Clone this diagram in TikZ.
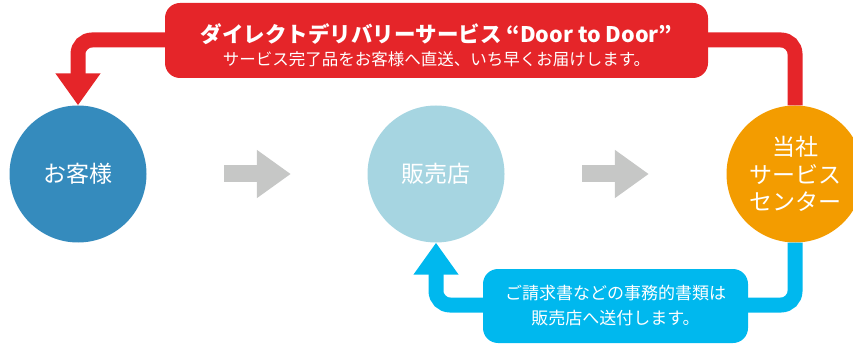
\documentclass[tikz,border=0pt]{standalone}
\usepackage{fontspec}
\setmainfont{Noto Sans CJK JP}
\usepackage{tikz}
\usetikzlibrary{arrows.meta}

\definecolor{ddred}{HTML}{E52529}
\definecolor{ddblue}{HTML}{358BBD}
\definecolor{ddlight}{HTML}{A6D5E1}
\definecolor{ddorange}{HTML}{F39C00}
\definecolor{ddcyan}{HTML}{00B8EE}
\definecolor{ddgray}{HTML}{C6C7C6}

\begin{document}
\begin{tikzpicture}[
		x = 1pt, y = -1pt,
		every node/.style = {text = white, inner sep = 0pt},
		station/.style = {circle, minimum size = 137pt, align = center,
			font = \fontsize{23}{27.5}\selectfont},
		infobox/.style = {rectangle, rounded corners = 15pt, align = center},
		flowline/.style = {line width = 15pt, rounded corners = 14pt,
			-{Triangle[width = 43pt, length = 32pt]}},
		stepline/.style = {draw = ddgray, line width = 17pt,
			-{Triangle[width = 46pt, length = 34pt]}}
		]
		\useasboundingbox (0,0) rectangle (853,347);
		\clip (0,0) rectangle (853,347);
		% Stations
		\node[station, fill = ddblue]   (customer) at (78,174)  {お客様};
		\node[station, fill = ddlight]  (shop)     at (436,174) {販売店};
		\node[station, fill = ddorange] (center)   at (795,174) {当社\\サービス\\センター};
		
		% Flow
		\draw[stepline, shorten < = 77.5pt, shorten > = 76.5pt] (customer) -- (shop);
		\draw[stepline, shorten < = 77.5pt, shorten > = 77.5pt] (shop) -- (center);
		
		% Return paths
		\coordinate (redturn)  at (customer.north |- 0,40);
		\coordinate (blueturn) at (shop.south |- 0,305);
		\draw[flowline, draw = ddred]  (center.north) |- (redturn) -- (customer.north);
		\draw[flowline, draw = ddcyan] (center.south) |- (blueturn) -- (shop.south);
		
		% Labels
		\node[infobox, fill = ddred, minimum width = 543pt, minimum height = 75pt]
			(service) at (436.5,40.5)
			{{\fontsize{21.5}{24}\selectfont\bfseries\rule{0pt}{29pt}ダイレクトデリバリーサービス “Door to Door”}\\[6pt]
			 {\fontsize{16.5}{19}\selectfont サービス完了品をお客様へ直送、いち早くお届けします。}};
		\node[infobox, fill = ddcyan, minimum width = 265pt, minimum height = 74pt,
			font = \fontsize{17}{25}\selectfont]
			(papers) at (615.5,306)
			{ご請求書などの事務的書類は\\販売店へ送付します。};
	\end{tikzpicture}
\end{document}
